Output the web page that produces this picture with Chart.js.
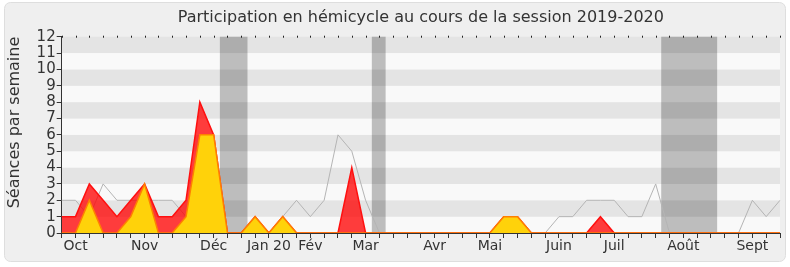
<!DOCTYPE html>
<html>
<head>
<meta charset="utf-8">
<script src="https://cdn.jsdelivr.net/npm/chart.js@4"></script>
<style>
  body { margin: 0; background: #fff; }
  #wrap { width: 790px; height: 267px; }
</style>
</head>
<body>
<div id="wrap"><canvas id="chart" width="790" height="267"></canvas></div>
<script>
// one point per week, session 2019-2020
const weeks = [];
for (let i = 0; i < 53; i++) weeks.push(i);

const monthTicks = { 1: "Oct", 6: "Nov", 11: "Déc", 15: "Jan 20", 18: "Fév", 22: "Mar",
                     27: "Avr", 31: "Mai", 36: "Juin", 40: "Juil", 45: "Août", 50: "Sept" };

const totalSeances = [2,2,1,3,2,2,2,2,2,1,2,2,0,0,1,0,1,2,1,2,6,5,2,0,0,0,0,0,0,0,0,0,1,1,0,0,1,1,2,2,2,1,1,3,0,0,0,0,0,0,2,1,2];
const presences    = [1,1,3,2,1,2,3,1,1,2,8,6,0,0,1,0,1,0,0,0,0,4,0,0,0,0,0,0,0,0,0,0,1,1,0,0,0,0,0,1,0,0,0,0,0,0,0,0,0,0,0,0,0];
const interventions= [0,0,2,0,0,1,3,0,0,1,6,6,0,0,1,0,1,0,0,0,0,0,0,0,0,0,0,0,0,0,0,0,1,1,0,0,0,0,0,0,0,0,0,0,0,0,0,0,0,0,0,0,0];

// vacances parlementaires (in week units)
const vacances = [[11.45, 13.45], [22.45, 23.45], [43.4, 47.45]];

const yTicks = [0,1,2,3,4,5,6,7,8,9,10,11,12];

const labels = weeks.map(w => monthTicks[w] || "");

const backdrop = {
    id: "backdrop",
    beforeDraw(c) {
        const ctx = c.ctx;
        ctx.save();
        ctx.fillStyle = "#efefef";
        ctx.strokeStyle = "#dedede";
        ctx.lineWidth = 1;
        ctx.beginPath();
        ctx.roundRect(4.5, 2.5, 781, 259, 6);
        ctx.fill();
        ctx.stroke();
        const a = c.chartArea, y = c.scales.y, x = c.scales.x;
        // stripes
        for (let v = 0; v < 12; v++) {
            ctx.fillStyle = v % 2 ? "#e4e4e4" : "#f9f9f9";
            const t = y.getPixelForValue(v + 1), b = y.getPixelForValue(v);
            ctx.fillRect(a.left, t, a.right - a.left, b - t);
        }
        // holidays
        ctx.fillStyle = "rgba(0,0,0,0.24)";
        vacances.forEach(([s, e]) => {
            const l = x.getPixelForValue(s), r = x.getPixelForValue(e);
            ctx.fillRect(l, a.top, r - l, a.bottom - a.top);
        });
        // little marks at the top
        ctx.fillStyle = "#222";
        weeks.forEach(w => {
            ctx.fillRect(Math.round(x.getPixelForValue(w)), a.top - 1, 1, 2);
        });
        ctx.restore();
    }
};

new Chart(document.getElementById("chart"), {
    type: "line",
    data: {
        labels: labels,
        datasets: [
            {
                data: interventions,
                fill: "origin",
                backgroundColor: "#ffd20a",
                borderColor: "#ff8000",
                borderWidth: 1.5,
                pointRadius: 0,
                tension: 0,
                order: 1
            },
            {
                data: presences,
                fill: "origin",
                backgroundColor: "rgba(255,0,0,0.76)",
                borderColor: "#ff1010",
                borderWidth: 1.5,
                pointRadius: 0,
                tension: 0,
                order: 2
            },
            {
                data: totalSeances,
                fill: false,
                borderColor: "#b4b4b4",
                borderWidth: 1,
                pointRadius: 0,
                tension: 0,
                order: 3
            }
        ]
    },
    options: {
        responsive: false,
        animation: false,
        layout: { padding: { left: 0, right: 10, top: 0, bottom: 0 } },
        plugins: {
            legend: { display: false },
            tooltip: { enabled: false },
            title: {
                display: true,
                fullSize: false,
                text: "Participation en hémicycle au cours de la session 2019-2020",
                color: "#333",
                font: { family: "DejaVu Sans", size: 16, weight: "normal" },
                padding: { top: 8, bottom: 9.5 }
            }
        },
        scales: {
            x: {
                offset: false,
                grid: { drawOnChartArea: false, tickLength: 5, color: "#333" },
                border: { color: "#333" },
                ticks: {
                    autoSkip: false,
                    maxRotation: 0,
                    padding: 0,
                    color: "#333",
                    font: { family: "DejaVu Sans", size: 14 }
                },
                afterFit(s) { s.height = 34; }
            },
            y: {
                min: 0,
                max: 12,
                afterBuildTicks(s) { s.ticks = yTicks.map(v => ({ value: v })); },
                grid: { drawOnChartArea: false, tickLength: 5, color: "#333" },
                border: { color: "#333" },
                ticks: {
                    autoSkip: false,
                    padding: 1,
                    color: "#333",
                    font: { family: "DejaVu Sans", size: 15 }
                },
                title: {
                    display: true,
                    align: "end",
                    text: "Séances par semaine",
                    color: "#333",
                    padding: { top: 5, bottom: 0 },
                    font: { family: "DejaVu Sans", size: 16 }
                },
                afterFit(s) { s.width = 61.7; }
            }
        }
    },
    plugins: [backdrop]
});
</script>
</body>
</html>
